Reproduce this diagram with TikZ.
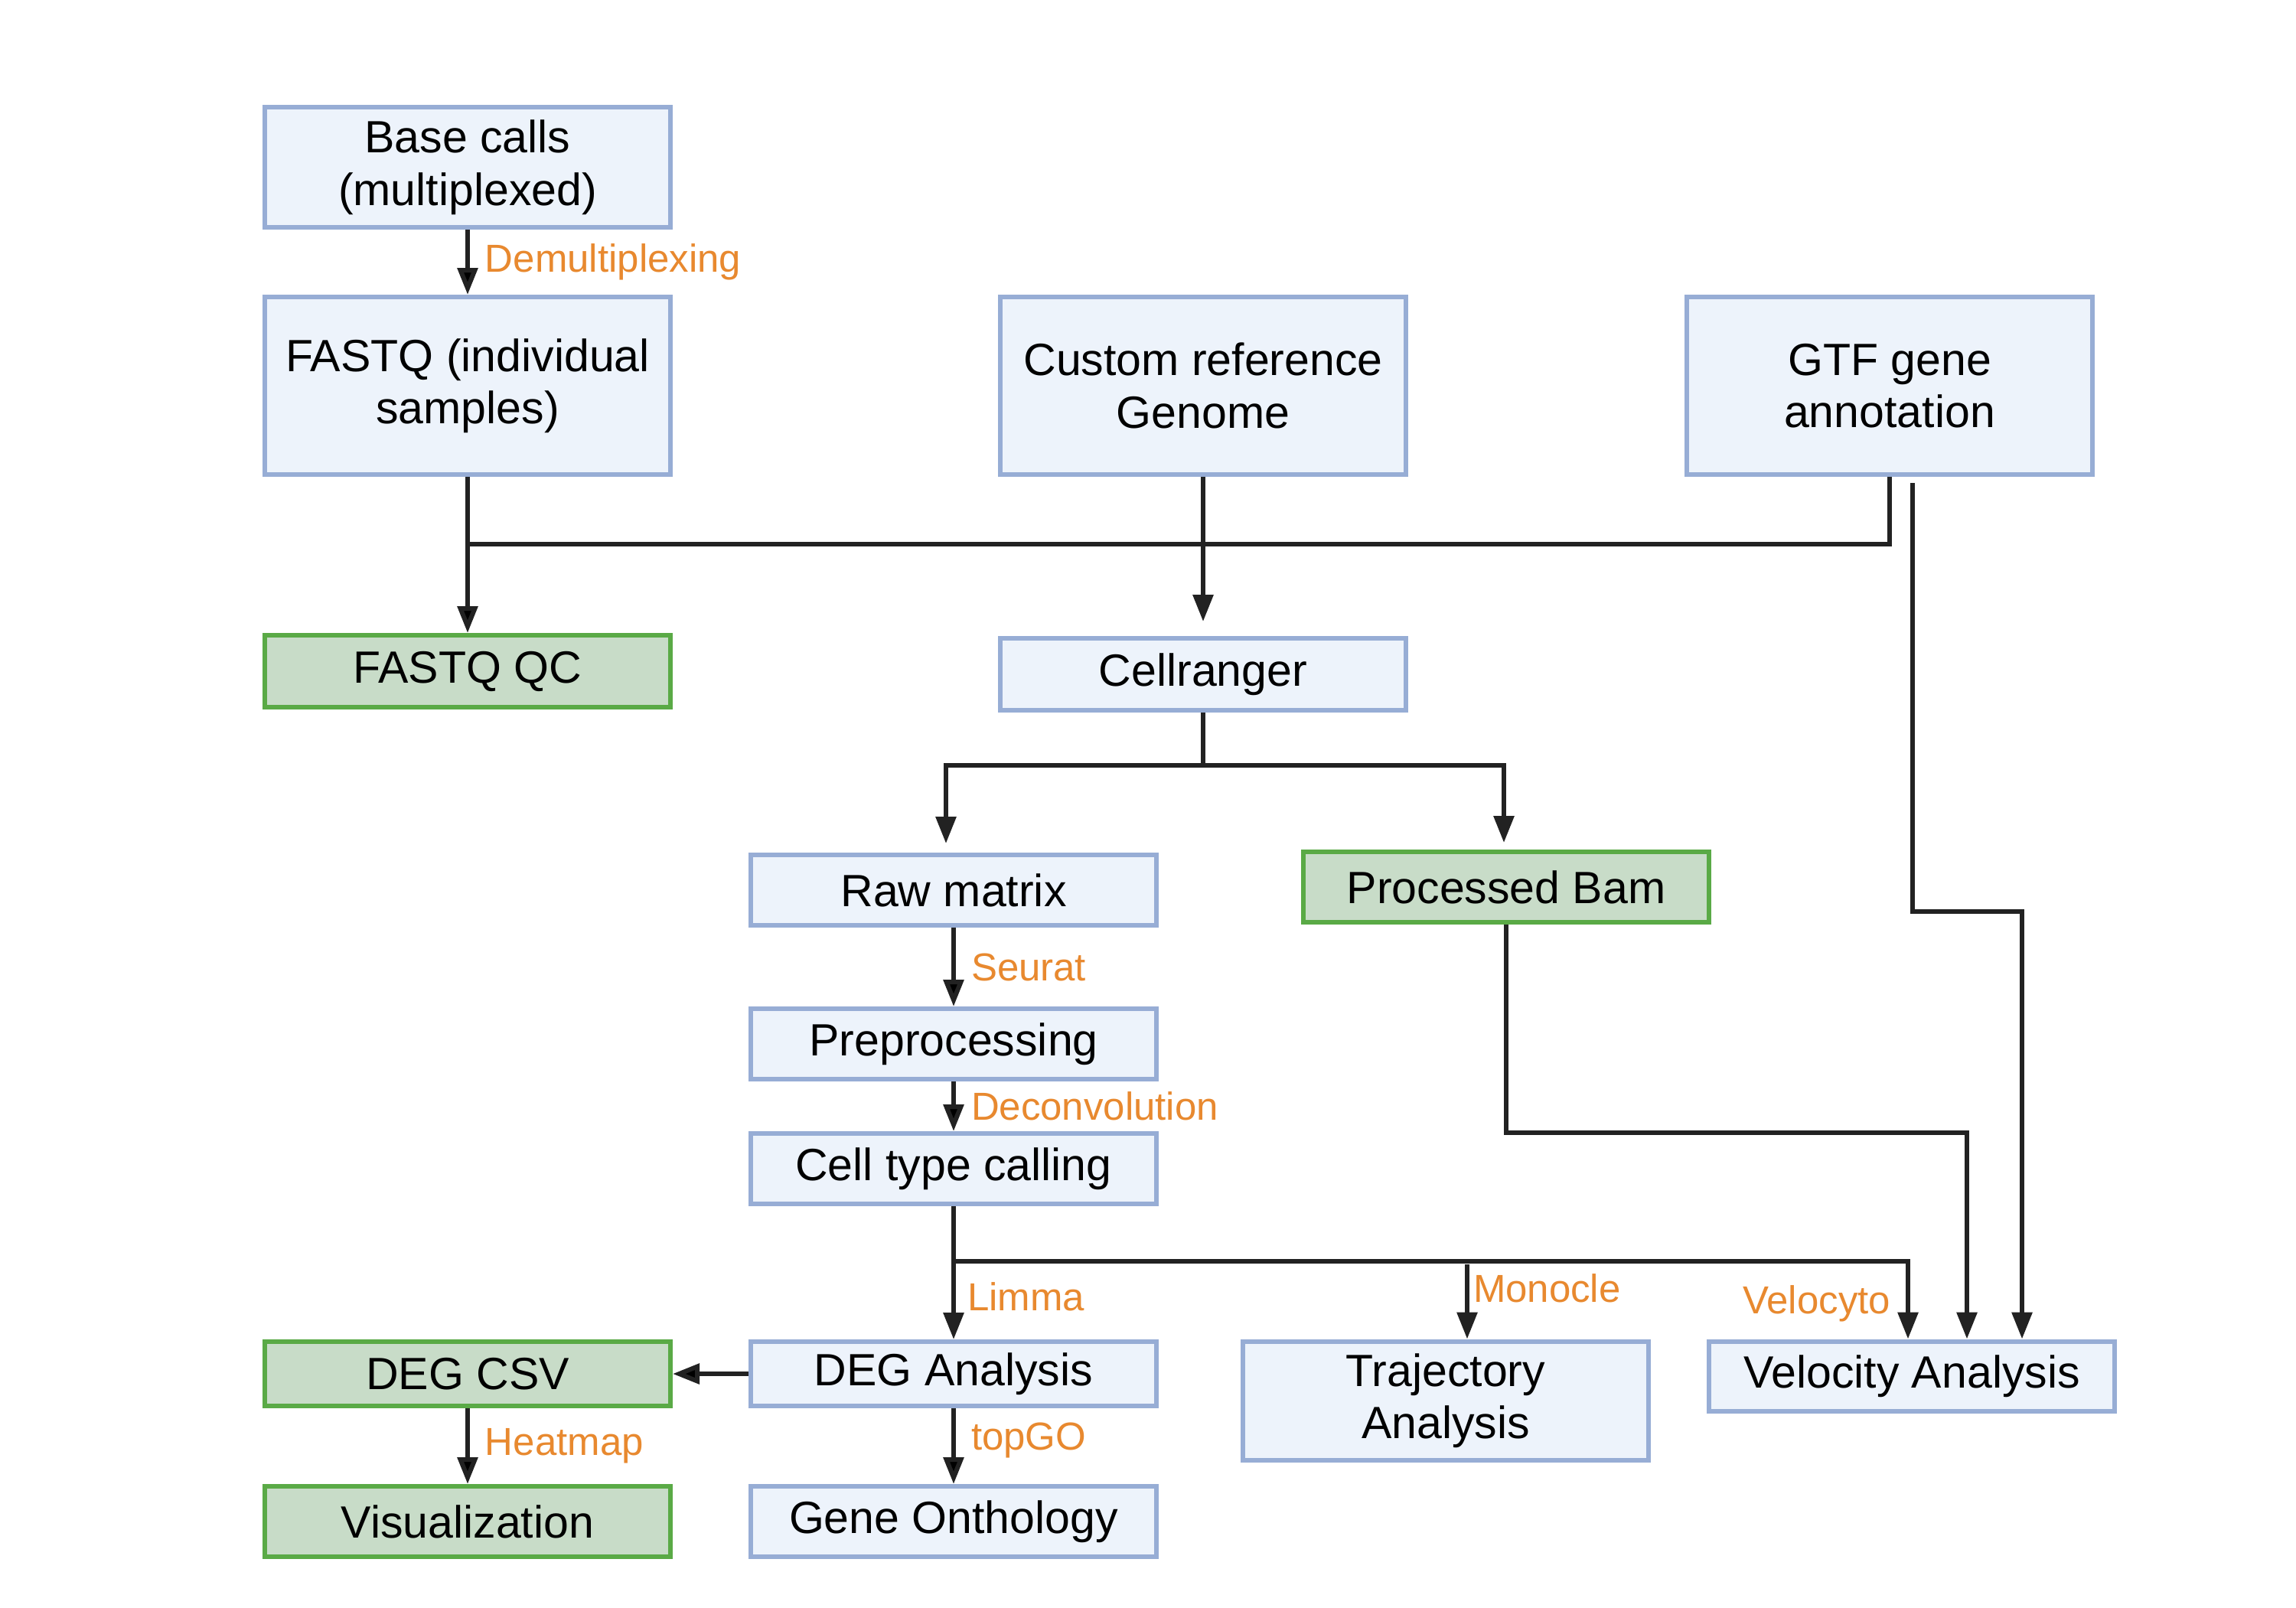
\documentclass[tikz,border=0pt]{standalone}
\usepackage{fontspec}
\setmainfont{Liberation Sans}
\usepackage{xcolor}
\usetikzlibrary{arrows.meta}

\definecolor{boxblue}{HTML}{EDF3FB}
\definecolor{lineblue}{HTML}{97ADD5}
\definecolor{boxgreen}{HTML}{C8DCC8}
\definecolor{linegreen}{HTML}{5AAA46}
\definecolor{toolorange}{HTML}{E8892F}
\definecolor{wire}{HTML}{222222}

\begin{document}
\begin{tikzpicture}[>={Triangle[length=3.5mm,width=2.6mm]}, line width=1.7pt,
  stage/.style={draw=lineblue, fill=boxblue, line width=1.7pt, minimum width=5.3cm,
    inner sep=0pt, align=center, font=\fontsize{16.8}{19.5}\selectfont},
  result/.style={stage, draw=linegreen, fill=boxgreen},
  lbl/.style={text=toolorange, font=\fontsize{14.5}{17}\selectfont, inner sep=2mm}]
\useasboundingbox[fill=white] (0,0) rectangle (30,-21);

\node[stage, minimum height=1.57cm]  (A) at (6.11,-2.185)  {Base calls\\(multiplexed)};
\node[stage, minimum height=2.32cm]  (B) at (6.11,-5.04)   {FASTQ (individual\\samples)};
\node[stage, minimum height=2.32cm]  (C) at (15.72,-5.04)  {Custom reference\\Genome};
\node[stage, minimum height=2.32cm]  (D) at (24.69,-5.04)  {GTF gene\\annotation};
\node[result, minimum height=0.94cm] (E) at (6.11,-8.77)   {FASTQ QC};
\node[stage, minimum height=0.94cm]  (F) at (15.72,-8.81)  {Cellranger};
\node[stage, minimum height=0.92cm]  (G) at (12.46,-11.63) {Raw matrix};
\node[result, minimum height=0.92cm] (H) at (19.68,-11.59) {Processed Bam};
\node[stage, minimum height=0.92cm]  (I) at (12.46,-13.64) {Preprocessing};
\node[stage, minimum height=0.92cm]  (J) at (12.46,-15.27) {Cell type calling};
\node[result, minimum height=0.84cm] (K) at (6.11,-17.95)  {DEG CSV};
\node[stage, minimum height=0.84cm]  (L) at (12.46,-17.95) {DEG Analysis};
\node[stage, minimum height=1.55cm]  (M) at (18.89,-18.30) {Trajectory\\Analysis};
\node[stage, minimum height=0.91cm]  (N) at (24.98,-17.98) {Velocity Analysis};
\node[result, minimum height=0.92cm] (O) at (6.11,-19.88)  {Visualization};
\node[stage, minimum height=0.92cm]  (P) at (12.46,-19.88) {Gene Onthology};

% inputs join up
\draw[wire] (B.south) -- ++(0,-0.88) -| (D.south);
\draw[wire, ->, shorten >=1.9mm] (C) -- (F);
\draw[wire, ->, shorten <=0.8mm] ([xshift=0.3cm]D.south) -- ++(0,-5.68) -| ([xshift=1.44cm]N.north);

\path[->, draw=wire]
    (A) edge node[lbl, right] {Demultiplexing} (B)
    (B) edge (E)
    (G) edge node[lbl, right] {Seurat} (I)
    (I) edge node[lbl, right] {Deconvolution} (J)
    (L) edge (K)
    (K) edge node[lbl, right] {Heatmap} (O)
    (L) edge node[lbl, right, pos=0.42] {topGO} (P);

% cellranger outputs
\draw[wire] (F.south) -- ++(0,-0.69) coordinate (f1);
\draw[wire, ->, shorten >=1.2mm] (f1) -| ([xshift=-0.1cm]G.north);
\draw[wire, ->, shorten >=0.9mm] (f1) -| ([xshift=-0.03cm]H.north);
\draw[wire, ->] (H.south) -- ++(0,-2.72) -| ([xshift=0.72cm]N.north);

% downstream analyses
\draw[wire] (J.south) -- ++(0,-0.72) coordinate (j1);
\draw[wire, ->] (j1) -- node[lbl, right, pos=0.45, inner sep=1.5mm] {Limma} (L.north);
\draw[wire, ->] (j1) -| node[lbl, left, pos=0.77] {Velocyto} ([xshift=-0.05cm]N.north);
\coordinate (m1) at ([xshift=0.28cm]M.north);
\draw[wire, ->] ([yshift=-0.04cm]m1 |- j1) -- node[lbl, right, pos=0.32, inner sep=0.5mm] {Monocle} (m1);
\end{tikzpicture}
\end{document}
